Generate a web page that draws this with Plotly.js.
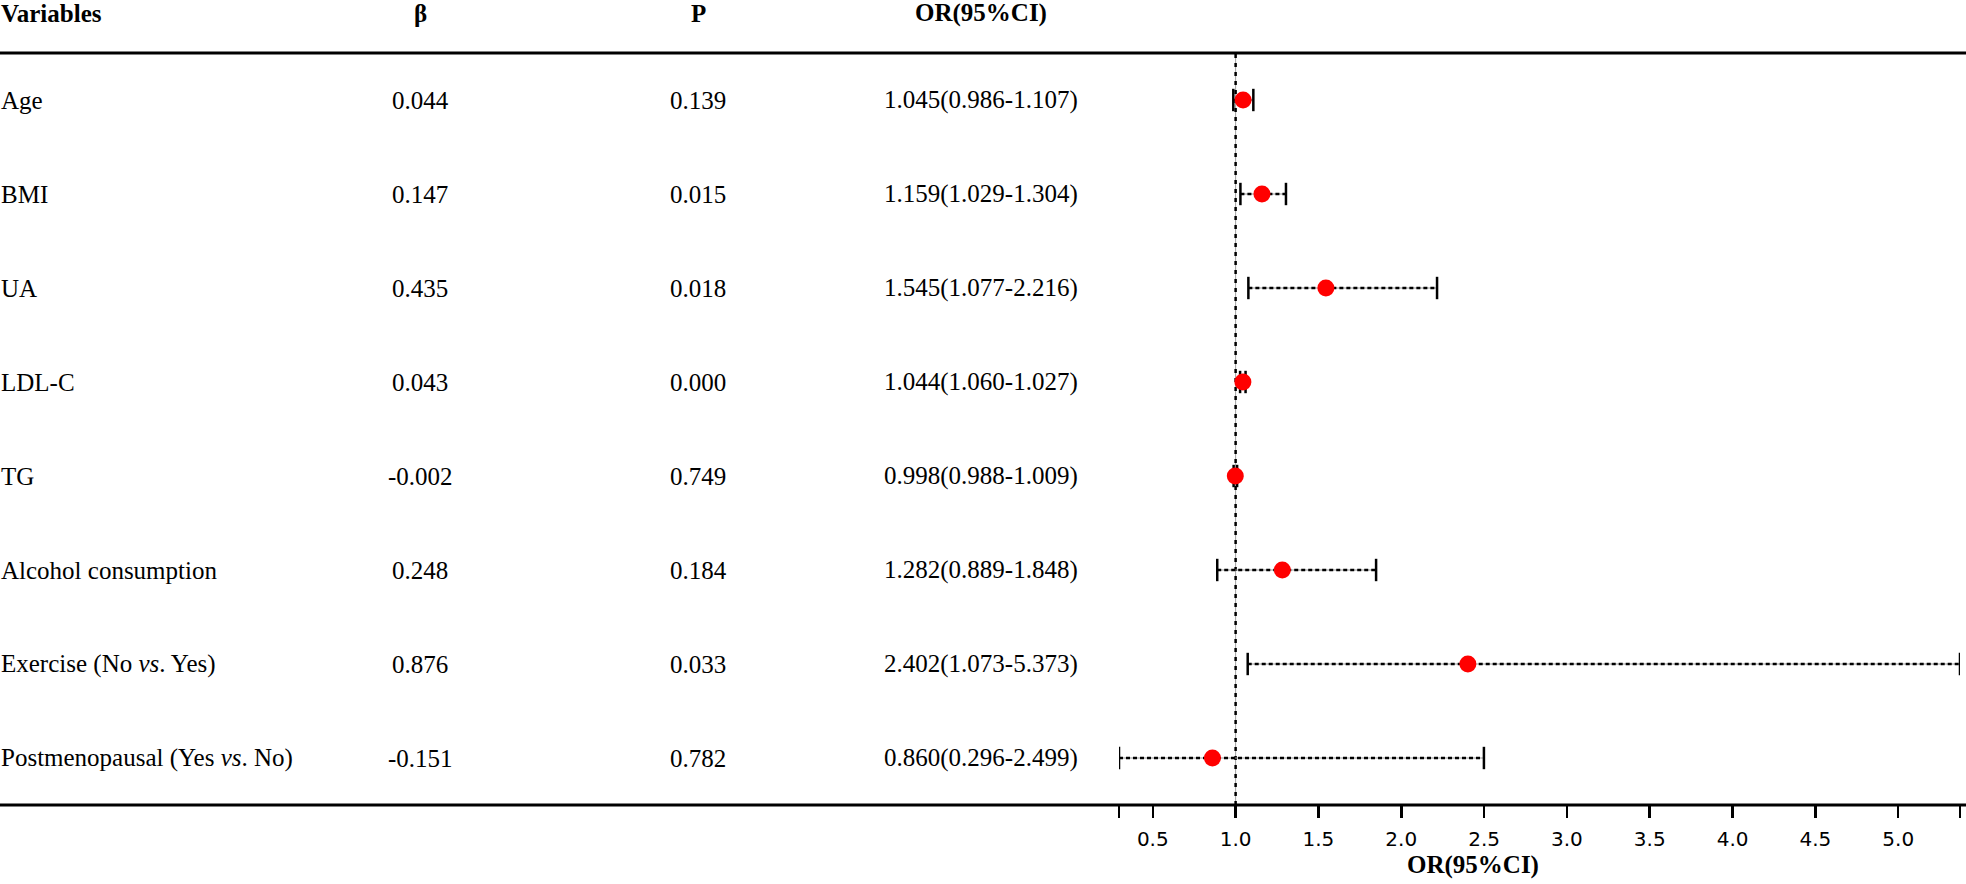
<!DOCTYPE html>
<html>
<head>
<meta charset="utf-8">
<script src="https://cdn.plot.ly/plotly-3.0.1.min.js"></script>
<style>
  html, body { margin: 0; padding: 0; background: #fff; }
  #chart { width: 1966px; height: 884px; }
</style>
</head>
<body>
<div id="chart"></div>
<script>
// ---- data ----
const variables = ["Age", "BMI", "UA", "LDL-C", "TG", "Alcohol consumption",
  "Exercise (No <i>vs</i>. Yes)", "Postmenopausal (Yes <i>vs</i>. No)"];
const beta = ["0.044", "0.147", "0.435", "0.043", "-0.002", "0.248", "0.876", "-0.151"];
const pValues = ["0.139", "0.015", "0.018", "0.000", "0.749", "0.184", "0.033", "0.782"];
const orValues = [1.045, 1.159, 1.545, 1.044, 0.998, 1.282, 2.402, 0.860];
const ciLow = [0.986, 1.029, 1.077, 1.060, 0.988, 0.889, 1.073, 0.296];
const ciHigh = [1.107, 1.304, 2.216, 1.027, 1.009, 1.848, 5.373, 2.499];
const orLabels = ["1.045(0.986-1.107)", "1.159(1.029-1.304)", "1.545(1.077-2.216)",
  "1.044(1.060-1.027)", "0.998(0.988-1.009)", "1.282(0.889-1.848)",
  "2.402(1.073-5.373)", "0.860(0.296-2.499)"];
const headers = ["Variables", "β", "P", "OR(95%CI)"];
const tickValues = [0.5, 1.0, 1.5, 2.0, 2.5, 3.0, 3.5, 4.0, 4.5, 5.0];
const tickLabels = ["0.5", "1.0", "1.5", "2.0", "2.5", "3.0", "3.5", "4.0", "4.5", "5.0"];
const refValue = 1;
const axisTitle = "OR(95%CI)";

// ---- build ----
const W = 1966, H = 884;
const rows = variables.map((_, i) => i + 1);
const xMin = Math.min(...ciLow, ...ciHigh);
const xMax = Math.max(...ciLow, ...ciHigh);

const ciX = [], ciY = [];
rows.forEach((r, i) => { ciX.push(ciLow[i], ciHigh[i], null); ciY.push(r, r, null); });

const serif = "Liberation Serif, Times New Roman, serif";
const txtFont = { family: serif, size: 25, color: "#000" };
const hdrFont = { family: serif, size: 25, color: "#000", weight: "bold" };

const traces = [
  { x: ciX, y: ciY, mode: "lines", type: "scatter", hoverinfo: "skip",
    line: { color: "#9a9a9a", width: 1 }, showlegend: false },
  { x: ciX, y: ciY, mode: "lines+markers", type: "scatter", hoverinfo: "skip",
    line: { color: "#000", width: 2.5, dash: "4px,3px" },
    marker: { symbol: "line-ns-open", size: 16, color: "#000", line: { color: "#000", width: 2.5 } },
    showlegend: false },
  { x: orValues, y: rows, mode: "markers", type: "scatter",
    marker: { color: "#ff0000", size: 17, line: { width: 0 } }, showlegend: false }
];

const colX = [0, 420 / W, 698 / W, 981 / W];
const annotations = [];
headers.forEach((h, k) => {
  annotations.push({ text: "<b>" + h + "</b>", xref: "paper", yref: "paper",
    x: colX[k], y: 1 + (53 - 13) / 752, xanchor: k === 0 ? "left" : "center", yanchor: "middle",
    showarrow: false, font: hdrFont, borderpad: 0 });
});
rows.forEach((r, i) => {
  annotations.push({ text: variables[i], xref: "paper", yref: "y", x: 0, y: r,
    xanchor: "left", yanchor: "middle", showarrow: false, font: txtFont, borderpad: 0 });
  annotations.push({ text: beta[i], xref: "paper", yref: "y", x: colX[1], y: r,
    xanchor: "center", yanchor: "middle", showarrow: false, font: txtFont });
  annotations.push({ text: pValues[i], xref: "paper", yref: "y", x: colX[2], y: r,
    xanchor: "center", yanchor: "middle", showarrow: false, font: txtFont });
  annotations.push({ text: orLabels[i], xref: "paper", yref: "y", x: colX[3], y: r,
    xanchor: "center", yanchor: "middle", showarrow: false, font: txtFont });
});
annotations.push({ text: "<b>" + axisTitle + "</b>", xref: "paper", yref: "paper",
  x: 1473 / W, y: -(865 - 805) / 752, xanchor: "center", yanchor: "middle",
  showarrow: false, font: hdrFont });

const shapes = [
  { type: "line", xref: "x", yref: "paper", x0: refValue, x1: refValue, y0: 0, y1: 1,
    line: { color: "#a0a0a0", width: 1 }, layer: "below" },
  { type: "line", xref: "x", yref: "paper", x0: refValue, x1: refValue, y0: 0, y1: 1,
    line: { color: "#000", width: 2.5, dash: "4px,5px" }, layer: "below" },
  { type: "line", xref: "paper", yref: "paper", x0: 0, x1: 1, y0: 1, y1: 1,
    line: { color: "#000", width: 3 } },
  { type: "line", xref: "paper", yref: "paper", x0: 0, x1: 1, y0: 0, y1: 0,
    line: { color: "#000", width: 3 } }
];

const layout = {
  width: W, height: H,
  margin: { l: 0, r: 0, t: 53, b: 79, pad: 0 },
  paper_bgcolor: "#fff", plot_bgcolor: "#fff",
  showlegend: false,
  xaxis: {
    domain: [1119 / W, 1960 / W],
    range: [xMin, xMax],
    tickvals: [xMin, ...tickValues, xMax],
    ticktext: ["", ...tickLabels, ""],
    ticks: "outside", ticklen: 12, tickwidth: 2.5, tickcolor: "#000",
    showgrid: false, zeroline: false, showline: false,
    tickfont: { family: "DejaVu Sans, sans-serif", size: 20, color: "#000" },
    ticklabelstandoff: 4,
    fixedrange: true
  },
  yaxis: {
    range: [8.5, 0.5], visible: false, showgrid: false, zeroline: false, fixedrange: true
  },
  annotations, shapes
};

Plotly.newPlot("chart", traces, layout, { displayModeBar: false, staticPlot: true });
</script>
</body>
</html>
